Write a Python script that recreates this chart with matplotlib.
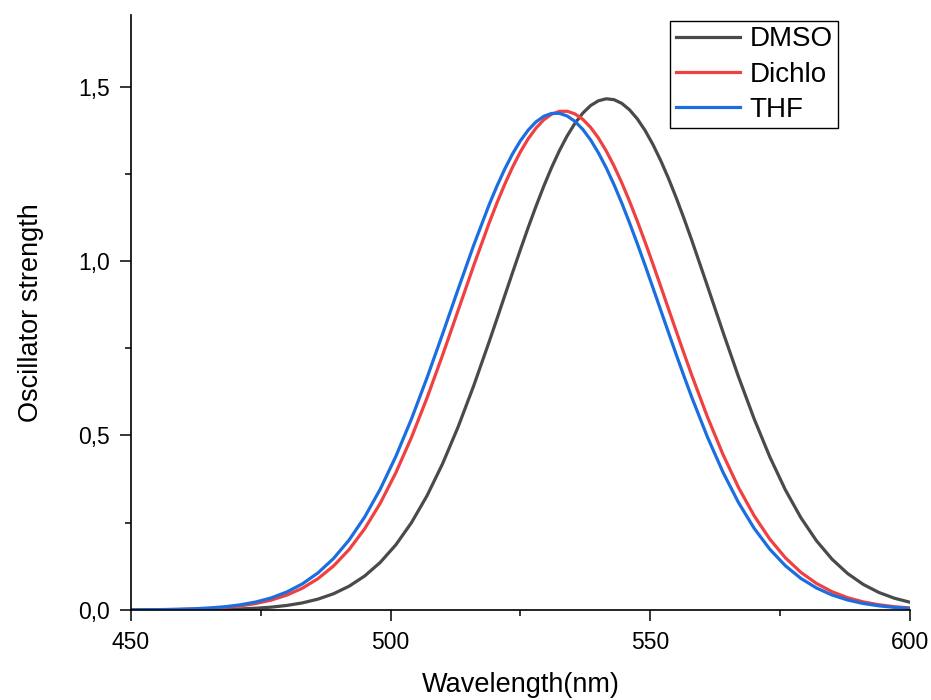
import numpy as np
import matplotlib
matplotlib.use("Agg")
import matplotlib.pyplot as plt
from matplotlib.ticker import MultipleLocator, FuncFormatter

plt.rcParams['font.family'] = ['Liberation Sans', 'DejaVu Sans']

# wavelengths (nm): every 3 nm, every 1.5 nm around the peaks
wavelength = [450, 453, 456, 459, 462, 465, 468, 471, 474, 477,
              480, 483, 486, 489, 492, 495, 498, 501, 504, 507,
              510, 513, 516, 519, 520.5, 522, 523.5, 525, 526.5, 528, 529.5,
              531, 532.5, 534, 535.5, 537, 538.5, 540, 541.5, 543, 544.5,
              546, 547.5, 549, 550.5, 552, 553.5, 555, 556.5, 558,
              561, 564, 567, 570, 573, 576, 579, 582, 585, 588, 591, 594, 597, 600]

dmso = [0.0000, 0.0001, 0.0002, 0.0003, 0.0006, 0.0010, 0.0017, 0.0030, 0.0050, 0.0081,
        0.0130, 0.0203, 0.0311, 0.0465, 0.0681, 0.0974, 0.1364, 0.1867, 0.2500, 0.3273,
        0.4191, 0.5249, 0.6428, 0.7700, 0.8356, 0.9019, 0.9679, 1.0331, 1.0966, 1.1573, 1.2149,
        1.2681, 1.3163, 1.3588, 1.3948, 1.4238, 1.4454, 1.4591, 1.4648, 1.4624, 1.4518,
        1.4333, 1.4073, 1.3740, 1.3340, 1.2880, 1.2368, 1.1808, 1.1213, 1.0588,
        0.9284, 0.7961, 0.6676, 0.5475, 0.4391, 0.3444, 0.2643, 0.1983, 0.1454, 0.1044,
        0.0733, 0.0503, 0.0337, 0.0222]

dichlo = [0.0003, 0.0005, 0.0009, 0.0015, 0.0027, 0.0044, 0.0073, 0.0117, 0.0184, 0.0283,
          0.0425, 0.0624, 0.0897, 0.1261, 0.1732, 0.2328, 0.3059, 0.3933, 0.4942, 0.6075,
          0.7303, 0.8587, 0.9873, 1.1103, 1.1675, 1.2209, 1.2697, 1.3132, 1.3505, 1.3811, 1.4047,
          1.4207, 1.4289, 1.4291, 1.4214, 1.4060, 1.3830, 1.3528, 1.3157, 1.2728, 1.2244,
          1.1712, 1.1141, 1.0541, 0.9916, 0.9276, 0.8630, 0.7985, 0.7346, 0.6721,
          0.5533, 0.4454, 0.3506, 0.2700, 0.2033, 0.1497, 0.1078, 0.0760, 0.0523, 0.0352,
          0.0232, 0.0150, 0.0094, 0.0058]

thf = [0.0004, 0.0007, 0.0012, 0.0020, 0.0034, 0.0057, 0.0092, 0.0147, 0.0228, 0.0346,
       0.0515, 0.0748, 0.1062, 0.1475, 0.2005, 0.2664, 0.3463, 0.4401, 0.5471, 0.6652,
       0.7908, 0.9195, 1.0455, 1.1626, 1.2158, 1.2644, 1.3077, 1.3448, 1.3753, 1.3988, 1.4147,
       1.4229, 1.4231, 1.4155, 1.4001, 1.3772, 1.3471, 1.3102, 1.2675, 1.2192, 1.1663,
       1.1094, 1.0496, 0.9874, 0.9237, 0.8594, 0.7952, 0.7315, 0.6693, 0.6089,
       0.4957, 0.3946, 0.3073, 0.2340, 0.1743, 0.1269, 0.0904, 0.0630, 0.0429, 0.0286,
       0.0186, 0.0119, 0.0074, 0.0045]

fig = plt.figure(figsize=(9.31, 7.0), dpi=100)
ax = fig.add_axes([0.1407, 0.1286, 0.8367, 0.85])

ax.plot(wavelength, dmso, color='#4a4a4a', lw=2.3, label='DMSO')
ax.plot(wavelength, dichlo, color='#f04040', lw=2.3, label='Dichlo')
ax.plot(wavelength, thf, color='#1a6ee0', lw=2.3, label='THF')

ax.set_xlim(450, 600)
ax.set_ylim(0, 1.705)

ax.xaxis.set_major_locator(MultipleLocator(50))
ax.xaxis.set_minor_locator(MultipleLocator(25))
ax.yaxis.set_major_locator(MultipleLocator(0.5))
ax.yaxis.set_minor_locator(MultipleLocator(0.25))
ax.yaxis.set_major_formatter(FuncFormatter(lambda v, p: f"{v:.1f}".replace('.', ',')))

for s in ['top', 'right']:
    ax.spines[s].set_visible(False)
for s in ['left', 'bottom']:
    ax.spines[s].set_linewidth(1.2)

ax.tick_params(which='major', direction='out', length=8, width=1.1, labelsize=16.5, pad=7)
ax.tick_params(which='minor', direction='out', length=4.5, width=1.1)

ax.set_xlabel('Wavelength(nm)', fontsize=19.5, labelpad=13)
ax.set_ylabel('Oscillator strength', fontsize=19.5, labelpad=25)

leg = ax.legend(loc='upper right', bbox_to_anchor=(0.908, 0.99), borderaxespad=0,
                fontsize=20, handlelength=2.3, handletextpad=0.35, labelspacing=0.33,
                borderpad=0.2, fancybox=False, framealpha=1)
leg.get_frame().set_edgecolor('black')
leg.get_frame().set_linewidth(1.0)

fig.savefig('out.png', dpi=100)
